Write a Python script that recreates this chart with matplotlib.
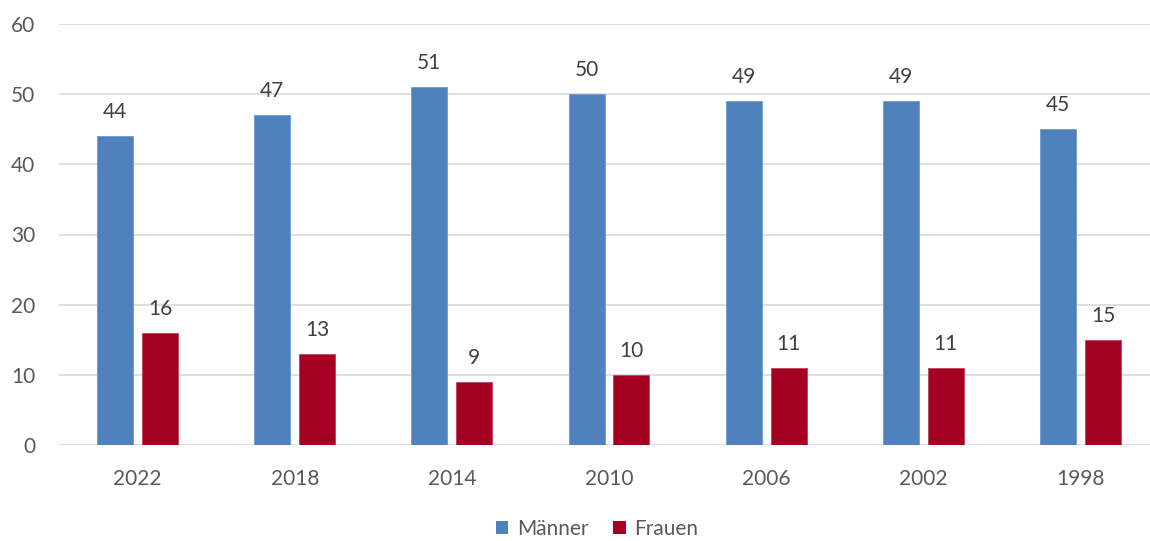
import numpy as np
import matplotlib
matplotlib.use("Agg")
import matplotlib.pyplot as plt
from matplotlib.patches import Patch

years = ["2022", "2018", "2014", "2010", "2006", "2002", "1998"]
maenner = [44, 47, 51, 50, 49, 49, 45]
frauen = [16, 13, 9, 10, 11, 11, 15]

BLUE = "#4F81BD"
RED = "#A50021"
TXT = "#595959"

plt.rcParams["font.family"] = ["Lato", "DejaVu Sans"]

fig = plt.figure(figsize=(11.5, 5.41), dpi=100)
ax = fig.add_axes([59 / 1150, 96 / 541, 1100 / 1150, 421 / 541])

x = np.arange(len(years))
w = 0.229
off = 0.143
b1 = ax.bar(x - off, maenner, w, color=BLUE, edgecolor="#6E9AD0", linewidth=0.6, zorder=3)
b2 = ax.bar(x + off, frauen, w, color=RED, edgecolor="#C0405A", linewidth=0.6, zorder=3)

for bars in (b1, b2):
    ax.bar_label(bars, padding=10, fontsize=15, color="#404040")

ax.set_xlim(-0.5, 6.5)
ax.set_ylim(0, 60)
ax.set_yticks(range(0, 61, 10))
ax.set_xticks(x)
ax.set_xticklabels(years)
ax.tick_params(axis="both", length=0, labelsize=15, colors=TXT)
ax.tick_params(axis="y", pad=17)
ax.tick_params(axis="x", pad=17)
ax.grid(axis="y", color="#D9D9D9", linewidth=1.2, zorder=0)
for s in ax.spines.values():
    s.set_visible(False)

handles = [Patch(facecolor=BLUE, label="Männer"), Patch(facecolor=RED, label="Frauen")]
fig.legend(handles=handles, loc="center", bbox_to_anchor=(597 / 1150, 12 / 541), ncol=2,
           frameon=False, fontsize=15, labelcolor=TXT, handlelength=0.6, handleheight=0.6,
           handletextpad=0.4, columnspacing=1.2)

fig.savefig("out.png", dpi=100)
